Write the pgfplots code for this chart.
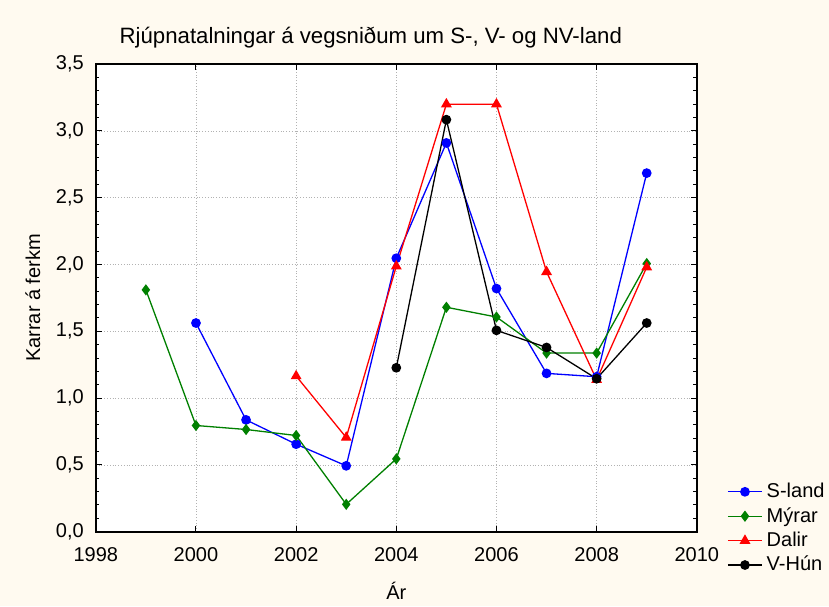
\documentclass[border=0pt]{standalone}
\usepackage{pgfplots}
\pgfplotsset{compat=1.18}
\usepackage{fontspec}
\setmainfont{Liberation Sans}
\definecolor{bgc}{RGB}{255,250,240}
\definecolor{mgreen}{RGB}{0,128,0}
\begin{document}
\begin{tikzpicture}[x=1pt,y=1pt]
\useasboundingbox (-47.9,-37.15) rectangle (366.6,265.85);
\fill[bgc] (-47.9,-37.15) rectangle (366.6,265.85);
\begin{axis}[
  at={(0,0)}, anchor=south west,
  scale only axis, width=300.5pt, height=233.8pt,
  xmin=1998, xmax=2010, ymin=0, ymax=3.5,
  xtick={1998,2000,...,2010}, minor x tick num=1,
  ytick={0,0.5,...,3.5}, minor y tick num=4,
  tick align=inside, major tick length=3pt, minor tick length=1.8pt,
  tick style={black, line width=0.5pt},
  axis line style={line width=0.8pt},
  axis background/.style={fill=white},
  grid=major, grid style={gray!60, densely dotted, line width=0.4pt},
  font=\fontsize{10}{12}\selectfont,
  /pgf/number format/assume math mode=true,
  xticklabel style={/pgf/number format/set thousands separator={}, yshift=-4.5pt},
  yticklabel style={/pgf/number format/.cd, fixed, fixed zerofill, precision=1, use comma, /tikz/xshift=-2.5pt},
  xlabel={Ár}, ylabel={Karrar á ferkm},
  xlabel style={yshift=-3pt},
  ylabel style={yshift=1pt},
  legend style={at={(1.04,0.122)}, anchor=north west, draw=none, fill=none,
    font=\fontsize{10}{12}\selectfont, row sep=-0.6pt,
    /tikz/every even column/.append style={column sep=2pt}},
  legend cell align=left,
  every axis plot/.append style={line width=0.65pt},
]
\addplot[blue, mark=*, mark size=2.1pt] coordinates {
(2000,1.562) (2001,0.837) (2002,0.655) (2003,0.493) (2004,2.047) (2005,2.91) (2006,1.82) (2007,1.185) (2008,1.16) (2009,2.684)};
\addlegendentry{S-land}
\addplot[mgreen, mark=diamond*, mark size=2.3pt] coordinates {
(1999,1.81) (2000,0.795) (2001,0.765) (2002,0.72) (2003,0.205) (2004,0.545) (2005,1.68) (2006,1.607) (2007,1.337) (2008,1.337) (2009,2.007)};
\addlegendentry{Mýrar}
\addplot[red, mark=triangle*, mark size=2.5pt] coordinates {
(2002,1.165) (2003,0.705) (2004,1.987) (2005,3.2) (2006,3.2) (2007,1.945) (2008,1.137) (2009,1.98)};
\addlegendentry{Dalir}
\addplot[black, mark=*, mark size=2.1pt] coordinates {
(2004,1.227) (2005,3.084) (2006,1.507) (2007,1.379) (2008,1.145) (2009,1.562)};
\addlegendentry{V-Hún}
\end{axis}
\node[font=\fontsize{11.1}{13}\selectfont] at (137.5,247.3) {Rjúpnatalningar á vegsniðum um S-, V- og NV-land};
\end{tikzpicture}
\end{document}
